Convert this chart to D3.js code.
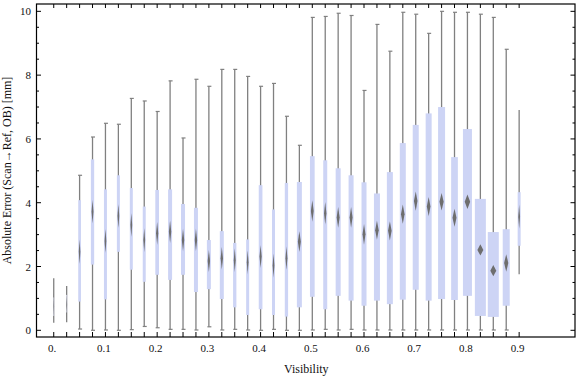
<!DOCTYPE html>
<html>
<head>
<meta charset="utf-8">
<script src="https://cdn.jsdelivr.net/npm/d3@7"></script>
<style>
  body { margin: 0; background: white; }
  text { font-family: "Liberation Serif", "Times New Roman", serif; fill: #111; }
</style>
</head>
<body>
<div id="chart"></div>
<script>
// data
var visibility = [0, 0.025, 0.05, 0.075, 0.1, 0.125, 0.15, 0.175, 0.2, 0.225, 0.25, 0.275, 0.3,
  0.325, 0.35, 0.375, 0.4, 0.425, 0.45, 0.475, 0.5, 0.525, 0.55, 0.575, 0.6, 0.625, 0.65,
  0.675, 0.7, 0.725, 0.75, 0.775, 0.8, 0.825, 0.85, 0.875, 0.9];
var whiskerLow = [0.24, 0.25, 0.04, 0.00, 0.01, 0.00, 0.02, 0.12, 0.08, 0.03, 0.03, 0.01, 0.11,
  0.01, 0.03, 0.01, 0.00, 0.03, 0.00, 0.00, 0.01, 0.03, 0.01, 0.03, 0.01, 0.01, 0.01,
  0.01, 0.01, 0.01, 0.01, 0.01, 0.01, 0.01, 0.01, 0.01, 1.76];
var q1 = [0.45, 0.56, 0.90, 2.06, 0.97, 2.46, 1.90, 1.52, 1.74, 1.58, 1.74, 1.20, 1.29,
  0.98, 0.72, 0.48, 0.66, 0.48, 0.43, 0.72, 1.05, 0.66, 1.08, 0.93, 0.77, 0.93, 0.82,
  0.96, 1.27, 0.93, 0.98, 0.95, 1.08, 0.45, 0.42, 0.77, 2.65];
var median = [0.76, 0.80, 2.46, 3.72, 2.80, 3.58, 3.30, 2.83, 3.04, 3.09, 2.83, 2.83, 2.17,
  2.26, 2.20, 2.13, 2.31, 2.03, 2.26, 2.78, 3.74, 3.67, 3.54, 3.54, 3.01, 3.14, 3.12,
  3.64, 4.05, 3.88, 4.03, 3.53, 4.03, 2.52, 1.87, 2.11, 3.56];
var q3 = [1.03, 1.11, 4.08, 5.36, 4.42, 4.86, 4.46, 3.88, 4.40, 4.42, 3.96, 3.84, 2.83,
  3.11, 2.74, 2.85, 4.55, 3.79, 4.62, 4.65, 5.46, 5.33, 5.08, 4.86, 4.64, 4.29, 4.96,
  5.87, 6.44, 6.80, 7.00, 5.43, 6.31, 4.12, 3.08, 3.17, 4.33];
var whiskerHigh = [1.63, 1.39, 4.86, 6.06, 6.49, 6.46, 7.27, 7.19, 6.86, 7.82, 6.03, 7.87, 7.65,
  8.18, 8.18, 7.96, 7.65, 7.74, 6.71, 5.80, 9.81, 9.84, 9.94, 9.87, 7.52, 9.59, 8.75,
  9.97, 9.91, 9.31, 10.0, 9.97, 9.97, 9.91, 9.81, 8.81, 6.91];
// relative box width (group size)
var relWidth = [1, 1.3, 2.7, 3.3, 3, 3, 3, 3, 3.7, 4, 4, 4, 4,
  4, 3.3, 3, 3.7, 3, 3.3, 5, 4.7, 4, 5, 5, 5, 6, 6,
  6, 6, 6, 7, 6.7, 9, 11, 11, 7, 3];
var xTickLabels = ["0.", "0.1", "0.2", "0.3", "0.4", "0.5", "0.6", "0.7", "0.8", "0.9"];
var yTicks = [0, 2, 4, 6, 8, 10];

var W = 576, H = 377;
var pLeft = 36.5, pRight = 575, pTop = 4, pBottom = 337;

var svg = d3.select("#chart").append("svg")
  .attr("width", W).attr("height", H);

var defs = svg.append("defs");
defs.append("filter").attr("id", "soft")
  .attr("x", "-50%").attr("y", "-50%").attr("width", "200%").attr("height", "200%")
  .append("feGaussianBlur").attr("stdDeviation", 0.7);

var x = d3.scaleLinear().domain([-1 / 30, 1.008]).range([pLeft, pRight]);
var y = d3.scaleLinear().domain([-0.21, 10.23]).range([pBottom, pTop]);
var wScale = d3.scaleLinear().domain([0, d3.max(relWidth)]).range([0, 11]);

var data = visibility.map(function(v, i) {
  return {v: v, lo: whiskerLow[i], q1: q1[i], med: median[i], q3: q3[i], hi: whiskerHigh[i], w: wScale(relWidth[i])};
});

var g = svg.append("g");

// whiskers
g.selectAll("line.whisker")
  .data(data)
  .enter()
  .append("line")
    .attr("class", "whisker")
    .attr("x1", function(d) { return x(d.v); })
    .attr("x2", function(d) { return x(d.v); })
    .attr("y1", function(d) { return y(d.lo); })
    .attr("y2", function(d) { return y(d.hi); })
    .attr("stroke", "#808080")
    .attr("stroke-width", 1.3);

// caps
["lo", "hi"].forEach(function(k) {
  g.selectAll("line.cap-" + k)
    .data(data.filter(function(d) { return d.w > 2 && d.lo < 1; }))
    .enter()
    .append("line")
      .attr("x1", function(d) { return x(d.v) - 1.5; })
      .attr("x2", function(d) { return x(d.v) + 2.5; })
      .attr("y1", function(d) { return y(d[k]); })
      .attr("y2", function(d) { return y(d[k]); })
      .attr("stroke", "#808080")
      .attr("stroke-width", 1.2);
});

// boxes
g.selectAll("rect.box")
  .data(data)
  .enter()
  .append("rect")
    .attr("class", "box")
    .attr("x", function(d) { return x(d.v) - d.w / 2; })
    .attr("width", function(d) { return d.w; })
    .attr("y", function(d) { return y(d.q3); })
    .attr("height", function(d) { return y(d.q1) - y(d.q3); })
    .attr("fill", function(d) { return d.w < 1.5 ? "#e4e7f6" : "#cdd4f5"; });

// median diamonds
g.selectAll("path.median")
  .data(data)
  .enter()
  .append("path")
    .attr("class", "median")
    .attr("d", function(d) {
      var hw = Math.min(d.w * 0.3, 3);
      var hh = Math.max(4.5, 12 - 0.8 * (d.w - 3));
      var cx = x(d.v), cy = y(d.med);
      return "M" + cx + "," + (cy - hh) + "L" + (cx + hw) + "," + cy +
        "L" + cx + "," + (cy + hh) + "L" + (cx - hw) + "," + cy + "Z";
    })
    .attr("fill", "#6e6e6e")
    .attr("filter", "url(#soft)");

// frame
svg.append("rect")
  .attr("x", pLeft).attr("y", pTop)
  .attr("width", pRight - pLeft).attr("height", pBottom - pTop)
  .attr("fill", "none").attr("stroke", "black").attr("stroke-width", 1.2);

// y ticks both sides
var yMinor = d3.range(0, 10.01, 0.5);
yMinor.forEach(function(t) {
  var major = Math.abs(t % 2) < 1e-9;
  var len = major ? 4.5 : 2.5;
  svg.append("line").attr("x1", pLeft).attr("x2", pLeft + len)
    .attr("y1", y(t)).attr("y2", y(t)).attr("stroke", "black");
  svg.append("line").attr("x1", pRight).attr("x2", pRight - len)
    .attr("y1", y(t)).attr("y2", y(t)).attr("stroke", "black");
});
svg.selectAll("text.ytick")
  .data(yTicks)
  .enter()
  .append("text")
    .attr("x", pLeft - 5.5)
    .attr("y", function(d) { return y(d) + 4; })
    .attr("text-anchor", "end")
    .attr("font-size", 11)
    .text(function(d) { return d; });

// x ticks top and bottom
visibility.forEach(function(v) {
  svg.append("line").attr("x1", x(v)).attr("x2", x(v))
    .attr("y1", pTop).attr("y2", pTop + 4).attr("stroke", "black");
  svg.append("line").attr("x1", x(v)).attr("x2", x(v))
    .attr("y1", pBottom).attr("y2", pBottom - 5).attr("stroke", "black");
});
svg.selectAll("text.xtick")
  .data(xTickLabels)
  .enter()
  .append("text")
    .attr("x", function(d, i) { return x(visibility[i * 4]) - 1.5; })
    .attr("y", pBottom + 15)
    .attr("text-anchor", "middle")
    .attr("font-size", 11)
    .text(function(d) { return d; });

// axis titles
svg.append("text")
  .attr("x", (pLeft + pRight) / 2 + 0.5)
  .attr("y", 373)
  .attr("text-anchor", "middle")
  .attr("font-size", 12)
  .text("Visibility");
svg.append("text")
  .attr("transform", "translate(11," + ((pTop + pBottom) / 2) + ") rotate(-90)")
  .attr("text-anchor", "middle")
  .attr("font-size", 12)
  .text("Absolute Error (Scan\u2192Ref, OB) [mm]");
</script>
</body>
</html>
